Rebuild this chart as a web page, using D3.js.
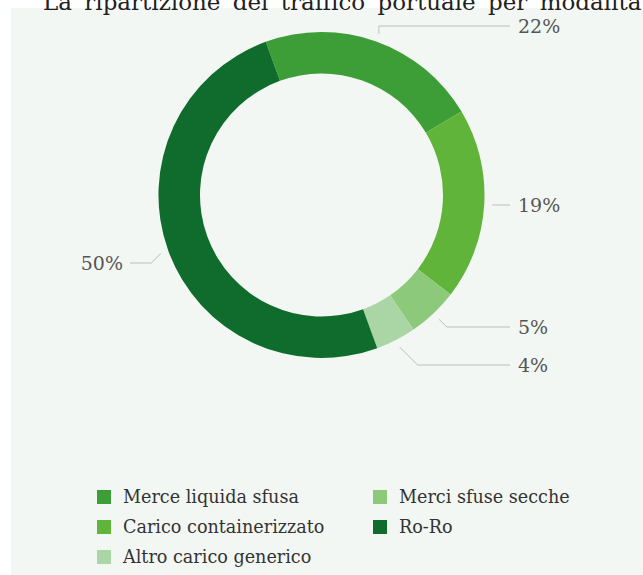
<!DOCTYPE html>
<html>
<head>
<meta charset="utf-8">
<script src="https://cdn.jsdelivr.net/npm/d3@7"></script>
<style>
  html, body { margin: 0; padding: 0; background: #ffffff; }
  svg { display: block; }
</style>
</head>
<body>
<script>
// Port traffic split by cargo type (share of total, %)
const categories = [
  "Merce liquida sfusa",
  "Carico containerizzato",
  "Merci sfuse secche",
  "Altro carico generico",
  "Ro-Ro"
];
const shares = [22, 19, 5, 4, 50];
const shareLabels = ["22%", "19%", "5%", "4%", "50%"];
const colors = ["#3d9d36", "#60b43a", "#8dc97a", "#aad5a4", "#0f6c2c"];
const legendOrder = [
  "Merce liquida sfusa", "Merci sfuse secche",
  "Carico containerizzato", "Ro-Ro",
  "Altro carico generico"
];
const title = "La ripartizione del traffico portuale per modalità";

const W = 643, H = 575;
const svg = d3.select("body").append("svg")
  .attr("width", W).attr("height", H);

// light panel behind the chart
svg.append("rect")
  .attr("x", 11).attr("y", 8)
  .attr("width", W - 11).attr("height", H - 8)
  .attr("fill", "#f3f7f3");

svg.append("text")
  .attr("x", 43).attr("y", 10)
  .attr("font-family", "DejaVu Serif")
  .attr("font-size", 23)
  .attr("word-spacing", 5)
  .attr("fill", "#222")
  .text(title);

// donut
const cx = 321.5, cy = 195, rOuter = 163, rInner = 121.5;
const startDeg = -20;
const pie = d3.pie().sort(null).value(d => d.value)
  .startAngle(startDeg * Math.PI / 180)
  .endAngle((startDeg + 360) * Math.PI / 180);
const data = categories.map((c, i) => ({ name: c, value: shares[i], label: shareLabels[i] }));
const arcs = pie(data);
const arc = d3.arc().innerRadius(rInner).outerRadius(rOuter);
const colorScale = d3.scaleOrdinal().domain(categories).range(colors);

const g = svg.append("g").attr("transform", `translate(${cx},${cy})`);
g.selectAll("path.slice").data(arcs).join("path")
  .attr("class", "slice")
  .attr("d", arc)
  .attr("fill", d => colorScale(d.data.name));

// leader lines and value labels
const labelArc = d3.arc().innerRadius(171).outerRadius(171);
const labelY = [26, 205, 327, 365, 263];   // label rows, in page coordinates
const verticalElbow = [true, false, false, false, false];
const rightLineEnd = 510, leftLineEnd = 130;

const lab = svg.append("g");
arcs.forEach((a, i) => {
  const [px, py] = labelArc.centroid(a);
  const sx = cx + px, sy = cy + py;
  const mid = (a.startAngle + a.endAngle) / 2;
  const right = Math.sin(mid) >= 0;
  const ly = labelY[i];
  const dy = Math.abs(ly - sy);
  const ex = verticalElbow[i] ? sx : sx + (right ? dy : -dy);
  const endX = right ? rightLineEnd : leftLineEnd;
  lab.append("path")
    .attr("d", d3.line()([[sx, sy], [ex, ly], [endX, ly]]))
    .attr("fill", "none")
    .attr("stroke", "#bdbdbd")
    .attr("stroke-width", 1);
  lab.append("text")
    .attr("x", right ? endX + 8 : endX - 7)
    .attr("y", ly)
    .attr("dy", "0.36em")
    .attr("text-anchor", right ? "start" : "end")
    .attr("font-family", "DejaVu Serif")
    .attr("font-size", 19)
    .attr("fill", "#555")
    .text(a.data.label);
});

// legend
const legend = svg.append("g");
const colX = [97, 373], rowY0 = 497, rowStep = 30, sq = 14;
legendOrder.forEach((name, k) => {
  const col = k % 2, row = Math.floor(k / 2);
  const x = colX[col], y = rowY0 + row * rowStep;
  legend.append("rect")
    .attr("x", x).attr("y", y - sq / 2)
    .attr("width", sq).attr("height", sq)
    .attr("fill", colorScale(name));
  legend.append("text")
    .attr("x", x + 26).attr("y", y)
    .attr("dy", "0.36em")
    .attr("font-family", "DejaVu Serif")
    .attr("font-size", 17.6)
    .attr("fill", "#333")
    .text(name);
});
</script>
</body>
</html>
